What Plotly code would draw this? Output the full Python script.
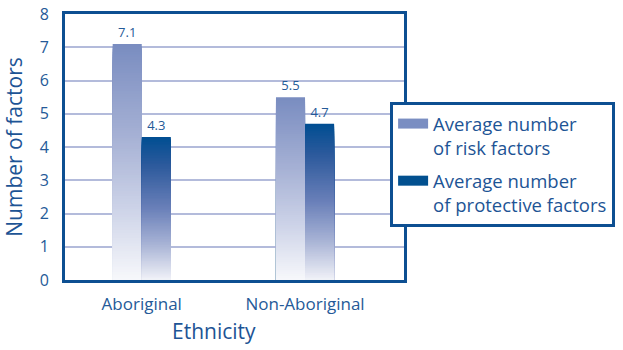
import plotly.graph_objects as go

# ---- data ----
categories = ["Aboriginal", "Non-Aboriginal"]
risk_values = [7.1, 5.5]
protective_values = [4.3, 4.7]
risk_label = "Average number<br>of risk factors"
protective_label = "Average number<br>of protective factors"
y_tick_values = [0, 1, 2, 3, 4, 5, 6, 7, 8]
y_title = "Number of factors"
x_title = "Ethnicity"

# ---- style ----
FONT = "Open Sans"
FRAME = "#0d4f92"
TEXT = "#255a98"
TITLE = "#1d5495"
GRID = "#b3bbdb"
# gradient stops: (fraction of bar height from bottom, colour)
RISK_STOPS = [(0.0, "#f7f8fb"), (0.3, "#cdd3e8"), (0.6, "#a7b2d5"), (1.0, "#798cc0")]
PROT_STOPS = [(0.0, "#f1f2f8"), (0.25, "#a8b3d5"), (0.5, "#6a80b9"), (0.8, "#2d5a9c"), (1.0, "#004e92")]
BAR_W = 0.178
N_SEG = 90


def hex_rgb(h):
    h = h.lstrip("#")
    return tuple(int(h[i:i + 2], 16) for i in (0, 2, 4))


def colour_at(stops, t):
    for (t0, c0), (t1, c1) in zip(stops[:-1], stops[1:]):
        if t0 <= t <= t1:
            a, b = hex_rgb(c0), hex_rgb(c1)
            u = (t - t0) / (t1 - t0)
            return "rgb(%d,%d,%d)" % tuple(round(a[i] + (b[i] - a[i]) * u) for i in range(3))
    return stops[-1][1]


fig = go.Figure()


def gradient_bars(values, offset, stops):
    # tallest (top colour) first, shorter lighter ones drawn on top
    for k in range(N_SEG):
        frac = (N_SEG - k) / N_SEG
        t = (N_SEG - k - 0.5) / N_SEG
        fig.add_trace(go.Bar(
            x=categories, y=[v * frac for v in values],
            offset=offset, width=BAR_W,
            marker=dict(color=colour_at(stops, t), line=dict(width=0)),
            showlegend=False, hoverinfo="skip"))
    # transparent full bar carrying the value label
    fig.add_trace(go.Bar(
        x=categories, y=values, offset=offset, width=BAR_W,
        marker=dict(color="rgba(0,0,0,0)", line=dict(width=0)),
        text=[f"{v:.1f}" for v in values], textposition="outside",
        textfont=dict(family=FONT, size=13, color=TEXT),
        cliponaxis=False, showlegend=False, hoverinfo="skip"))


gradient_bars(risk_values, -BAR_W, RISK_STOPS)
gradient_bars(protective_values, 0, PROT_STOPS)

# legend entries
fig.add_trace(go.Scatter(x=[None], y=[None], mode="lines", name=risk_label,
                         line=dict(color="#7a8ec2", width=13), legendgroup="r"))
fig.add_trace(go.Scatter(x=[None], y=[None], mode="lines", name=protective_label,
                         line=dict(color="#02508f", width=13), legendgroup="p"))

fig.update_layout(
    width=623, height=350,
    margin=dict(l=65, r=219, t=14, b=70, autoexpand=False),
    paper_bgcolor="white", plot_bgcolor="white",
    barmode="overlay",
    font=dict(family=FONT, color=TEXT),
    showlegend=True,
    legend=dict(
        x=0.959, y=0.669, xanchor="left", yanchor="top",
        bgcolor="white", bordercolor=FRAME, borderwidth=3,
        font=dict(family=FONT, size=18.5, color=TITLE),
        valign="top", traceorder="grouped", tracegroupgap=6,
        itemwidth=30,
    ),
    xaxis=dict(
        type="category", range=[-0.470, 1.606], automargin=False,
        showline=True, linewidth=3, linecolor=FRAME, mirror=True,
        showgrid=False, ticks="", ticklabelstandoff=7,
        tickfont=dict(family=FONT, size=17, color=TEXT),
    ),
    yaxis=dict(
        range=[0, 8], tickvals=y_tick_values, automargin=False,
        showline=True, linewidth=3, linecolor=FRAME, mirror=True,
        showgrid=True, gridcolor=GRID, gridwidth=2,
        zeroline=False, ticks="", ticklabelstandoff=10,
        tickfont=dict(family=FONT, size=16, color=TEXT),
        title=dict(text=y_title, font=dict(family=FONT, size=21, color=TITLE), standoff=12),
    ),
    yaxis2=dict(
        overlaying="y", side="left", range=[0, 8], tickvals=[0, 8], automargin=False,
        ticks="outside", ticklen=6, tickwidth=3, tickcolor=FRAME,
        showticklabels=False, showgrid=False, showline=False, zeroline=False,
    ),
    annotations=[dict(
        text=x_title, xref="paper", yref="paper", x=0.44, y=-0.19,
        xanchor="center", yanchor="middle", showarrow=False,
        font=dict(family=FONT, size=21, color=TITLE))],
)

fig.write_html("out.html")
